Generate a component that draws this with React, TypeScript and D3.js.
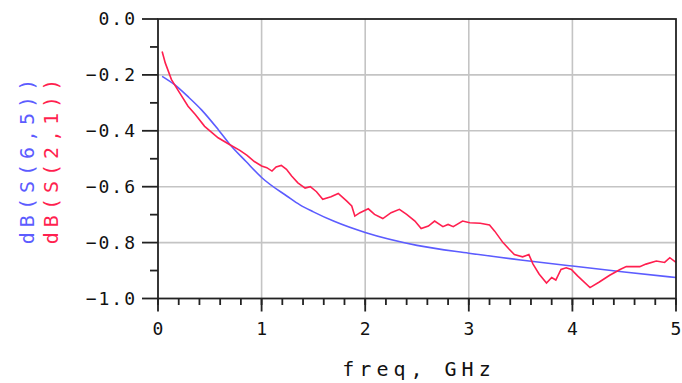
import React from "react";
import * as d3 from "d3";

const blueFreq = [0.04, 0.16, 0.29, 0.42, 0.58, 0.69, 0.85, 1.0, 1.25, 1.37, 1.5, 1.7, 2.0, 2.5, 3.0, 3.5, 4.0, 4.5, 5.0];
const blueDb = [-0.205, -0.235, -0.278, -0.325, -0.395, -0.447, -0.51, -0.567, -0.635, -0.665, -0.69, -0.724, -0.764, -0.81, -0.838, -0.862, -0.884, -0.905, -0.925];

const redFreq = [0.04, 0.07, 0.13, 0.2, 0.29, 0.36, 0.45, 0.58, 0.69, 0.79, 0.86, 0.93, 1.0, 1.05, 1.1, 1.14, 1.19, 1.24, 1.29, 1.35, 1.42, 1.47, 1.53, 1.59, 1.67, 1.74, 1.82, 1.87, 1.9, 1.95, 2.03, 2.09, 2.17, 2.25, 2.33, 2.4, 2.48, 2.54, 2.61, 2.67, 2.75, 2.8, 2.85, 2.94, 3.01, 3.11, 3.2, 3.25, 3.33, 3.39, 3.44, 3.52, 3.58, 3.62, 3.68, 3.75, 3.8, 3.84, 3.89, 3.94, 3.99, 4.05, 4.17, 4.26, 4.36, 4.46, 4.52, 4.65, 4.71, 4.81, 4.89, 4.94, 5.0];
const redDb = [-0.116, -0.157, -0.217, -0.259, -0.312, -0.342, -0.384, -0.425, -0.449, -0.47, -0.488, -0.51, -0.526, -0.532, -0.544, -0.529, -0.524, -0.538, -0.562, -0.586, -0.605, -0.6, -0.618, -0.645, -0.636, -0.624, -0.651, -0.669, -0.705, -0.693, -0.679, -0.699, -0.714, -0.693, -0.681, -0.699, -0.723, -0.75, -0.741, -0.723, -0.743, -0.735, -0.743, -0.723, -0.729, -0.731, -0.737, -0.759, -0.8, -0.824, -0.843, -0.851, -0.843, -0.877, -0.913, -0.945, -0.925, -0.934, -0.896, -0.89, -0.896, -0.919, -0.961, -0.941, -0.917, -0.896, -0.886, -0.886, -0.877, -0.866, -0.871, -0.854, -0.871];

const xTicks = [0, 1, 2, 3, 4, 5];
const xMinorTicks = d3.range(0, 5.0001, 0.2);
const yTicks = [0, -0.2, -0.4, -0.6, -0.8, -1.0];
const yMinorTicks = [-0.1, -0.3, -0.5, -0.7, -0.9];
const yTickLabels = ["0.0", "\u22120.2", "\u22120.4", "\u22120.6", "\u22120.8", "\u22121.0"];
const xLabel = "freq, GHz";
const blueLabel = "dB(S(6,5))";
const redLabel = "dB(S(2,1))";

const BLUE = "#5c5cff";
const RED = "#ff1f4f";
const FONT = "'DejaVu Sans Mono', monospace";

export default function App() {
  const W = 682, H = 383;
  const left = 158, right = 676, top = 19, bottom = 298.5;
  const x = d3.scaleLinear().domain([0, 5]).range([left, right]);
  const y = d3.scaleLinear().domain([-1, 0]).range([bottom, top]);

  const blueData = blueFreq.map((f, i) => [f, blueDb[i]] as [number, number]);
  const redData = redFreq.map((f, i) => [f, redDb[i]] as [number, number]);
  const blueLine = d3.line<[number, number]>().x(d => x(d[0])).y(d => y(d[1])).curve(d3.curveMonotoneX);
  const redLine = d3.line<[number, number]>().x(d => x(d[0])).y(d => y(d[1])).curve(d3.curveLinear);

  return (
    <svg width={W} height={H} style={{ position: "absolute", left: 0, top: 0, background: "#fff" }}>
      {/* grid */}
      {xTicks.slice(1, -1).map(t => (
        <line key={"gx" + t} x1={x(t)} x2={x(t)} y1={top} y2={bottom} stroke="#c4c4c4" strokeWidth={1.6} />
      ))}
      {yTicks.slice(1, -1).map(t => (
        <line key={"gy" + t} x1={left} x2={right} y1={y(t)} y2={y(t)} stroke="#c4c4c4" strokeWidth={1.6} />
      ))}
      {/* curves */}
      <path d={blueLine(blueData) || ""} fill="none" stroke={BLUE} strokeWidth={1.6} />
      <path d={redLine(redData) || ""} fill="none" stroke={RED} strokeWidth={1.6} />
      {/* frame */}
      <rect x={left} y={top} width={right - left} height={bottom - top} fill="none" stroke="#222" strokeWidth={1.8} />
      {/* y ticks */}
      {yTicks.map((t, i) => (
        <g key={"yt" + t}>
          <line x1={left - 16} x2={left} y1={y(t)} y2={y(t)} stroke="#222" strokeWidth={1.8} />
          <text x={137} y={y(t) + 6} textAnchor="end" fontFamily={FONT} fontSize={18} letterSpacing={2} fill="#111">
            {yTickLabels[i]}
          </text>
        </g>
      ))}
      {yMinorTicks.map(t => (
        <line key={"ym" + t} x1={left - 8} x2={left} y1={y(t)} y2={y(t)} stroke="#222" strokeWidth={1.8} />
      ))}
      {/* x ticks */}
      {xMinorTicks.map(t => (
        <line key={"xm" + t} x1={x(t)} x2={x(t)} y1={bottom} y2={bottom + 6.5} stroke="#222" strokeWidth={1.8} />
      ))}
      {xTicks.map(t => (
        <g key={"xt" + t}>
          <line x1={x(t)} x2={x(t)} y1={bottom} y2={bottom + 13} stroke="#222" strokeWidth={1.8} />
          <text x={x(t)} y={335} textAnchor="middle" fontFamily={FONT} fontSize={18} fill="#111">
            {t}
          </text>
        </g>
      ))}
      {/* axis labels */}
      <text x={419} y={376} textAnchor="middle" fontFamily={FONT} fontSize={20} letterSpacing={5} fill="#111">
        {xLabel}
      </text>
      <text transform="translate(34,159) rotate(-90)" textAnchor="middle" fontFamily={FONT} fontSize={20} letterSpacing={5} fill={BLUE}>
        {blueLabel}
      </text>
      <text transform="translate(58,159) rotate(-90)" textAnchor="middle" fontFamily={FONT} fontSize={20} letterSpacing={5} fill={RED}>
        {redLabel}
      </text>
    </svg>
  );
}
